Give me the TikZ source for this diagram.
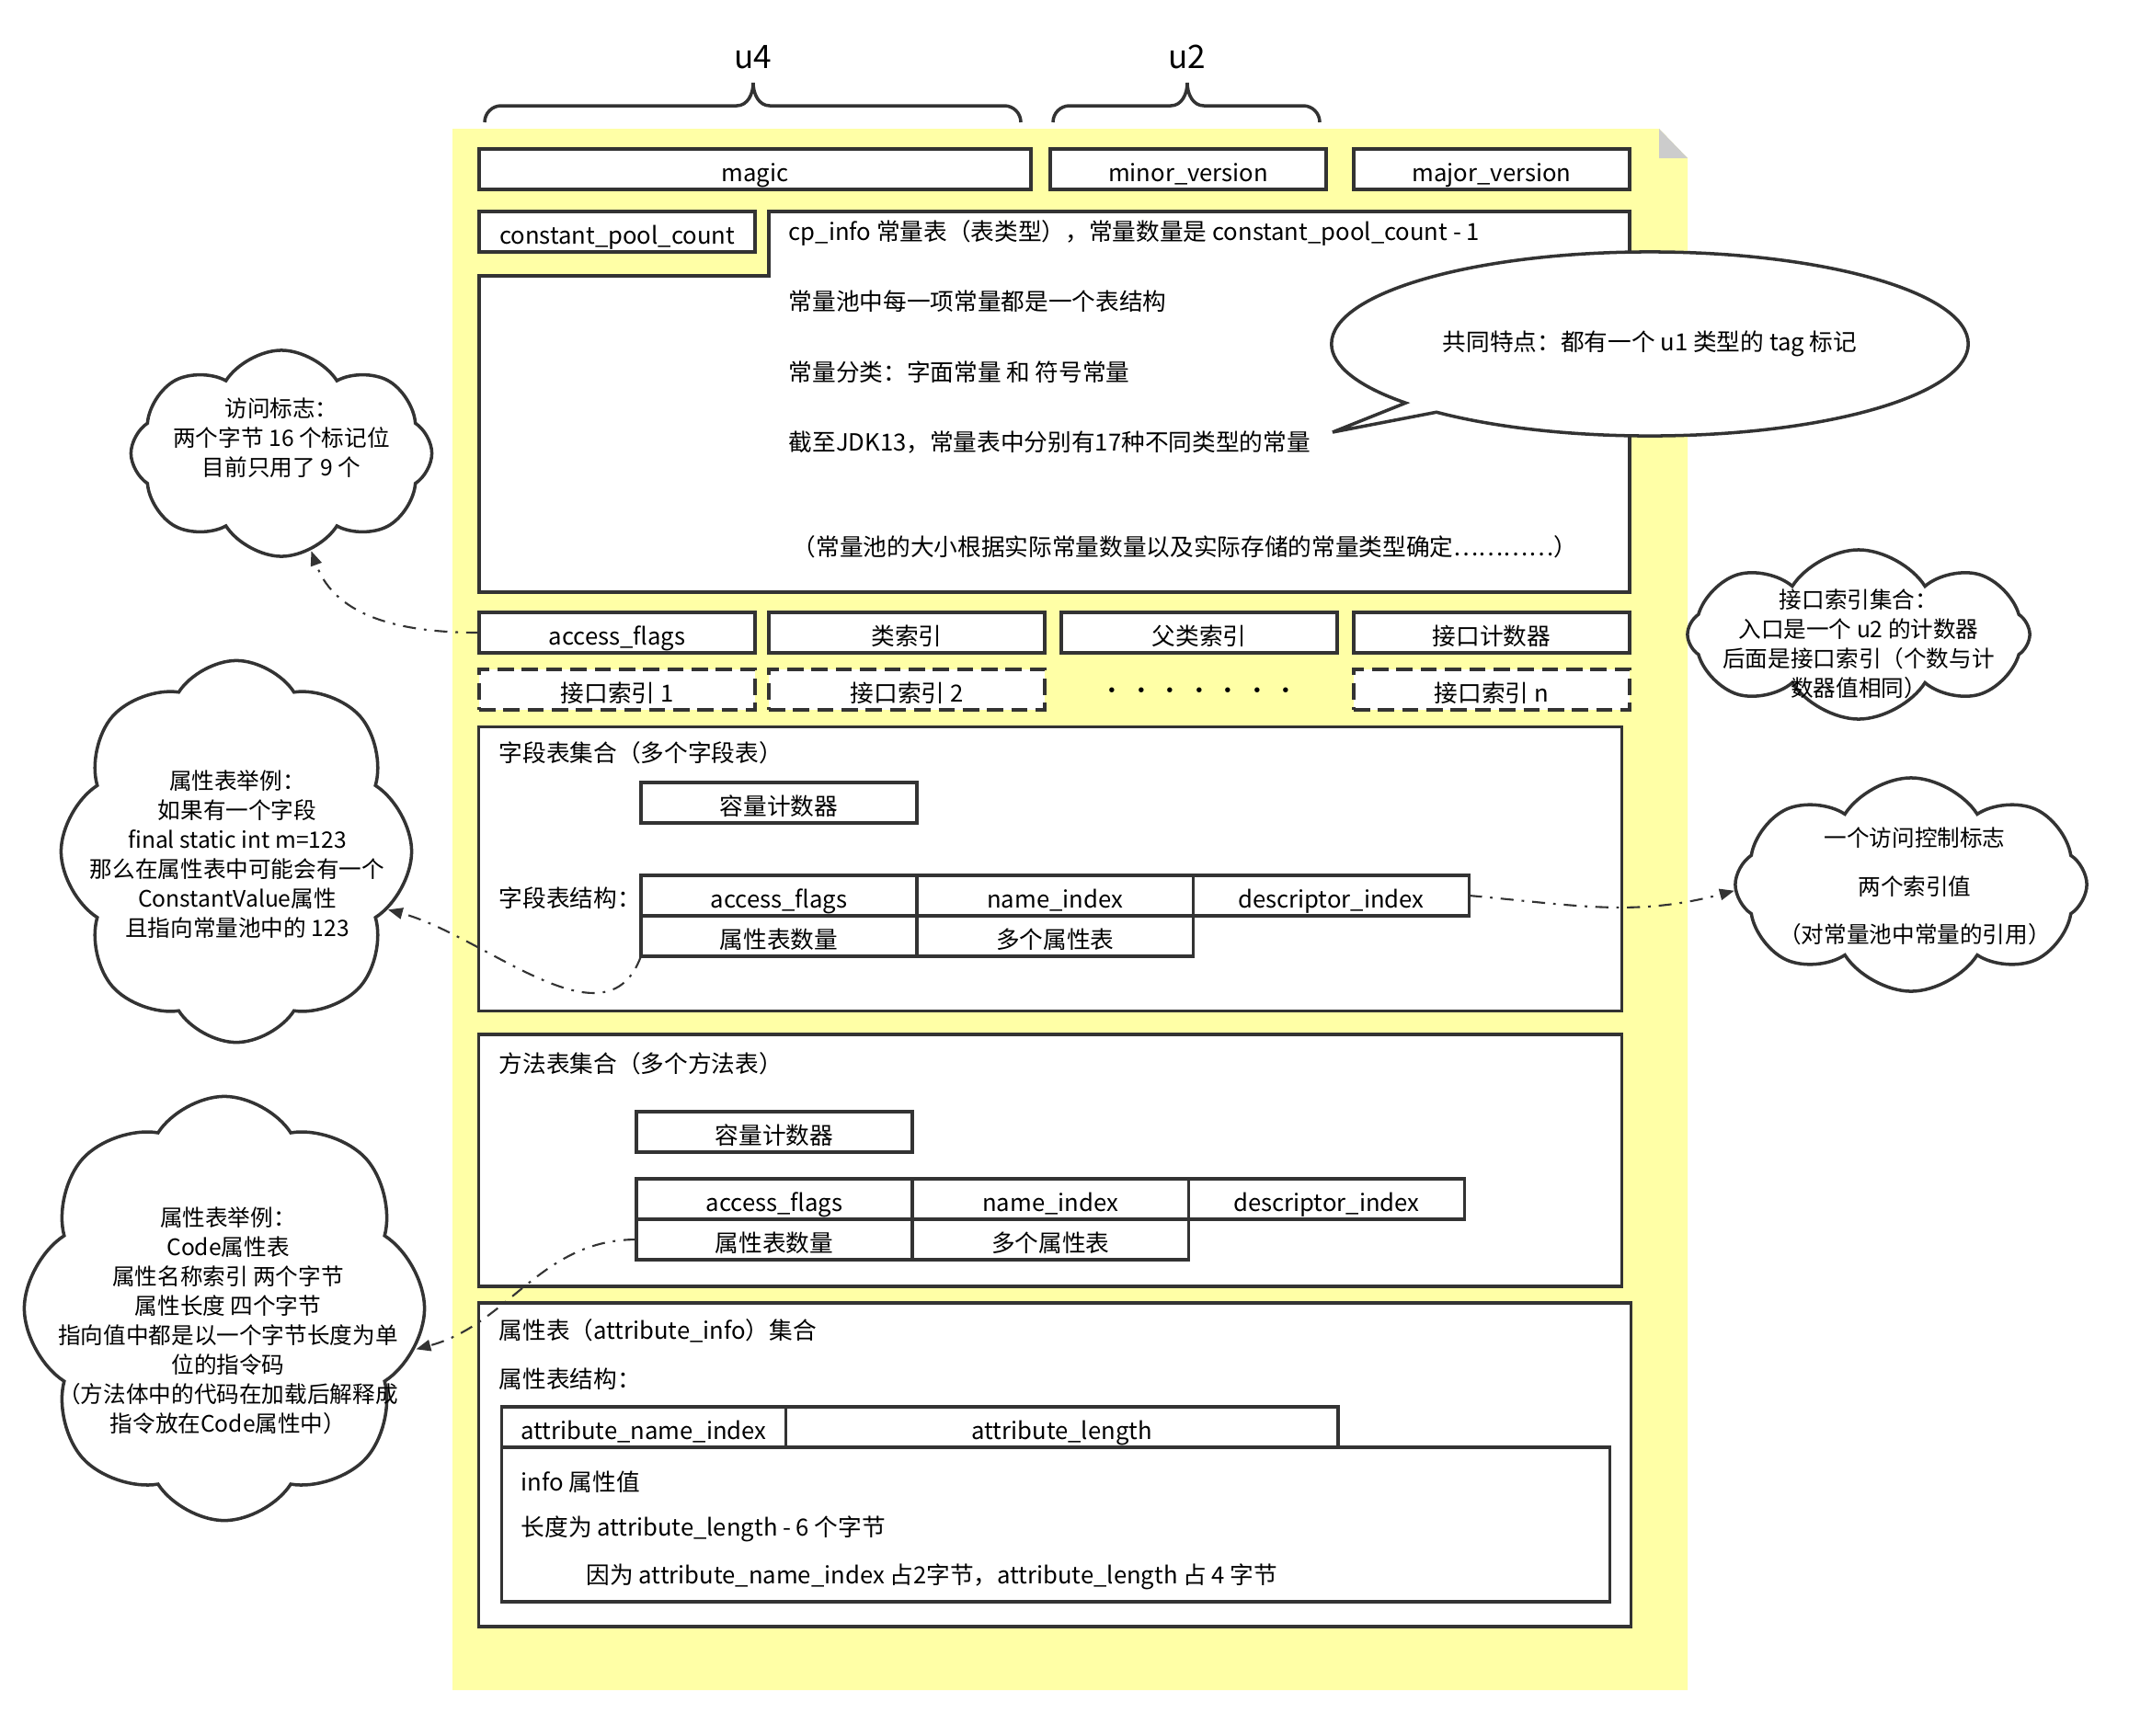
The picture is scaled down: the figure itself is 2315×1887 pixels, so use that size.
\documentclass[tikz,border=0pt]{standalone}
\usepackage{fontspec}
\setmainfont{Noto Sans CJK SC}
\usepackage{tikz}
\usetikzlibrary{arrows.meta, positioning, shapes.geometric, shapes.symbols, shapes.callouts}
\definecolor{linec}{HTML}{333333}
\definecolor{notebg}{HTML}{FFFFA6}
\definecolor{foldc}{HTML}{CCCCCC}
\newcommand\mainsize{\fontsize{7.3pt}{9pt}\selectfont}
\newcommand\cloudsize{\fontsize{7pt}{9.1pt}\selectfont}
\tikzstyle{fieldbox} = [rectangle, draw=linec, line width=1pt, fill=white, minimum width=3cm, minimum height=0.44cm, inner sep=0pt, outer sep=0pt, text height=8.6pt, text depth=1pt]
\tikzstyle{dfieldbox} = [fieldbox, dash pattern=on 5pt off 2.5pt]
\tikzstyle{sectbox} = [rectangle, draw=linec, line width=1pt, fill=white, inner sep=0pt, outer sep=0pt]
\tikzstyle{txt} = [anchor=west, inner sep=0pt]
\tikzstyle{linkarrow} = [draw=linec, line width=0.6pt, dash pattern=on 4pt off 2.5pt on 0.8pt off 2.5pt, -{Triangle[length=4.5pt,width=3.5pt]}]
\tikzset{
	cloudnote/.style = {shape=cloud, cloud puffs=8, cloud puff arc=115, cloud ignores aspect,
		draw=linec, line width=1pt, fill=white, inner sep=0pt},
	notetext/.style = {align=center, font=\cloudsize, inner sep=0pt},
	curly/.style = {draw=linec, line width=1pt}
}

\begin{document}
\begin{tikzpicture}[x=0.01cm, y=0.01cm, font=\mainsize]
\useasboundingbox (0,0) rectangle (2315,-1887);
%----------------------------------------------------------------------------
% Note background
\fill[notebg] (492,-140) -- (1804,-140) -- (1835,-172) -- (1835,-1838) -- (492,-1838) -- cycle;
\fill[foldc] (1804,-140) -- (1835,-172) -- (1804,-172) -- cycle;

%----------------------------------------------------------------------------
% Braces
\draw[curly] (527,-133) to[out=90,in=180] (545,-115) -- (801,-115) to[out=0,in=-90] (819,-90)
	to[out=-90,in=180] (837,-115) -- (1092,-115) to[out=0,in=90] (1110,-133);
\draw[curly] (1145,-133) to[out=90,in=180] (1163,-115) -- (1273,-115) to[out=0,in=-90] (1291,-90)
	to[out=-90,in=180] (1309,-115) -- (1417,-115) to[out=0,in=90] (1435,-133);
\node (lblU4) [font=\fontsize{10pt}{12pt}\selectfont] at (819,-62) {u4};
\node (lblU2) [font=\fontsize{10pt}{12pt}\selectfont] at (1291,-62) {u2};

%----------------------------------------------------------------------------
% Header
\node (magic) [fieldbox, minimum width=6cm] at (821,-184) {magic};
\node (minorV) [fieldbox] at (1292,-184) {minor\_version};
\node (majorV) [fieldbox] at (1622,-184) {major\_version};
\node (cpCount) [fieldbox] at (671,-252) {constant\_pool\_count};

% Constant pool
\filldraw[fill=white, draw=linec, line width=1pt] (836,-230) -- (1772,-230) -- (1772,-644) -- (521,-644)
	-- (521,-300) -- (836,-300) -- cycle;
\node (cpTitle) [txt] at (857,-253) {cp\_info 常量表（表类型），常量数量是 constant\_pool\_count - 1};
\node (cpLine1) [txt] at (857,-328) {常量池中每一项常量都是一个表结构};
\node (cpLine2) [txt] at (857,-405) {常量分类：字面常量 和 符号常量};
\node (cpLine3) [txt] at (857,-481) {截至JDK13，常量表中分别有17种不同类型的常量};
\node (cpLine4) [txt] at (861,-595) {（常量池的大小根据实际常量数量以及实际存储的常量类型确定…………）};

\node (tagNote) [ellipse callout, draw=linec, line width=1pt, fill=white, minimum width=6.92cm, minimum height=2cm,
	inner sep=0pt, callout absolute pointer={(1449,-470)}, callout pointer arc=8] at (1794,-374)
	{共同特点：都有一个 u1 类型的 tag 标记};

%----------------------------------------------------------------------------
% Access, class, interfaces
\node (accFlags) [fieldbox] at (671,-688) {access\_flags};
\node (thisIdx) [fieldbox] at (986,-688) {类索引};
\node (superIdx) [fieldbox] at (1304,-688) {父类索引};
\node (ifCount) [fieldbox] at (1622,-688) {接口计数器};

\node (ifIdx1) [dfieldbox] at (671,-750) {接口索引 1};
\node (ifIdx2) [dfieldbox] at (986,-750) {接口索引 2};
\node (ifDots) at (1304,-754) {· · · · · · ·};
\node (ifIdxN) [dfieldbox] at (1622,-750) {接口索引 n};

%----------------------------------------------------------------------------
% Fields
\node (fieldSet) [sectbox, minimum width=12.42cm, minimum height=3.09cm] at (1142,-945) {};
\node (fieldTitle) [txt] at (542,-819) {字段表集合（多个字段表）};
\node (fieldCnt) [fieldbox] at (847,-873) {容量计数器};
\node (fieldStruct) [txt] at (542,-977) {字段表结构：};
\node (fAcc) [fieldbox] at (847,-974) {access\_flags};
\node (fName) [fieldbox, right=0pt of fAcc] {name\_index};
\node (fDesc) [fieldbox, right=0pt of fName] {descriptor\_index};
\node (fAttrCnt) [fieldbox, below=0pt of fAcc] {属性表数量};
\node (fAttrs) [fieldbox, right=0pt of fAttrCnt] {多个属性表};

% Methods
\node (methodSet) [sectbox, minimum width=12.42cm, minimum height=2.74cm] at (1142,-1262) {};
\node (methodTitle) [txt] at (542,-1157) {方法表集合（多个方法表）};
\node (methodCnt) [fieldbox] at (842,-1231) {容量计数器};
\node (mAcc) [fieldbox] at (842,-1304) {access\_flags};
\node (mName) [fieldbox, right=0pt of mAcc] {name\_index};
\node (mDesc) [fieldbox, right=0pt of mName] {descriptor\_index};
\node (mAttrCnt) [fieldbox, below=0pt of mAcc] {属性表数量};
\node (mAttrs) [fieldbox, right=0pt of mAttrCnt] {多个属性表};

% Attributes
\node (attrSet) [sectbox, minimum width=12.52cm, minimum height=3.52cm] at (1147,-1593) {};
\node (attrTitle) [txt] at (542,-1447) {属性表（attribute\_info）集合};
\node (attrStruct) [txt] at (542,-1500) {属性表结构：};
\node (attrName) [fieldbox, minimum width=3.09cm] at (700,-1552) {attribute\_name\_index};
\node (attrLen) [fieldbox, minimum width=6cm, right=0pt of attrName] {attribute\_length};
\node (attrInfo) [sectbox, minimum width=12.04cm, minimum height=1.68cm] at (1148,-1658) {};
\node (infoLine1) [txt] at (566,-1612) {info 属性值};
\node (infoLine2) [txt] at (566,-1663) {长度为 attribute\_length - 6 个字节};
\node (infoLine3) [txt] at (637,-1715) {因为 attribute\_name\_index 占2字节，attribute\_length 占 4 字节};

%----------------------------------------------------------------------------
% Notes
\node (cldAccess) [cloudnote, minimum width=3.27cm, minimum height=2.24cm] at (306,-493) {};
\node (cldAccessTxt) [notetext] at (306,-476) {访问标志：\\两个字节 16 个标记位\\目前只用了 9 个};

\node (cldIface) [cloudnote, minimum width=3.72cm, minimum height=1.84cm] at (2021,-690) {};
\node (cldIfaceTxt) [notetext] at (2021,-700) {接口索引集合：\\入口是一个 u2 的计数器\\后面是接口索引（个数与计\\数器值相同）};

\node (cldField) [cloudnote, minimum width=3.81cm, minimum height=4.15cm] at (257,-926) {};
\node (cldFieldTxt) [notetext] at (258,-929) {属性表举例：\\如果有一个字段\\final static int m=123\\那么在属性表中可能会有一个\\ConstantValue属性\\且指向常量池中的 123};

\node (cldRef) [cloudnote, minimum width=3.82cm, minimum height=2.32cm] at (2078,-962) {};
\node (cldRefTxt) [notetext, font=\fontsize{7pt}{15pt}\selectfont] at (2082,-964) {一个访问控制标志\\两个索引值\\（对常量池中常量的引用）};

\node (cldCode) [cloudnote, minimum width=4.35cm, minimum height=4.61cm] at (244,-1423) {};
\node (cldCodeTxt) [notetext] at (248,-1436) {属性表举例：\\Code属性表\\属性名称索引 两个字节\\属性长度 四个字节\\指向值中都是以一个字节长度为单\\位的指令码\\（方法体中的代码在加载后解释成\\指令放在Code属性中）};

%----------------------------------------------------------------------------
% Lines
\draw [linkarrow] (accFlags.west) to[out=180, in=-70] (cldAccess.-73);
\draw [linkarrow] (fAttrCnt.south west) to[out=-110, in=-15] (cldField.-21);
\draw [linkarrow] (fDesc.east) to[out=-5, in=195] (cldRef.182);
\draw [linkarrow] (mAttrCnt.west) to[out=180, in=15] (cldCode.-12);
\end{tikzpicture}
\end{document}
